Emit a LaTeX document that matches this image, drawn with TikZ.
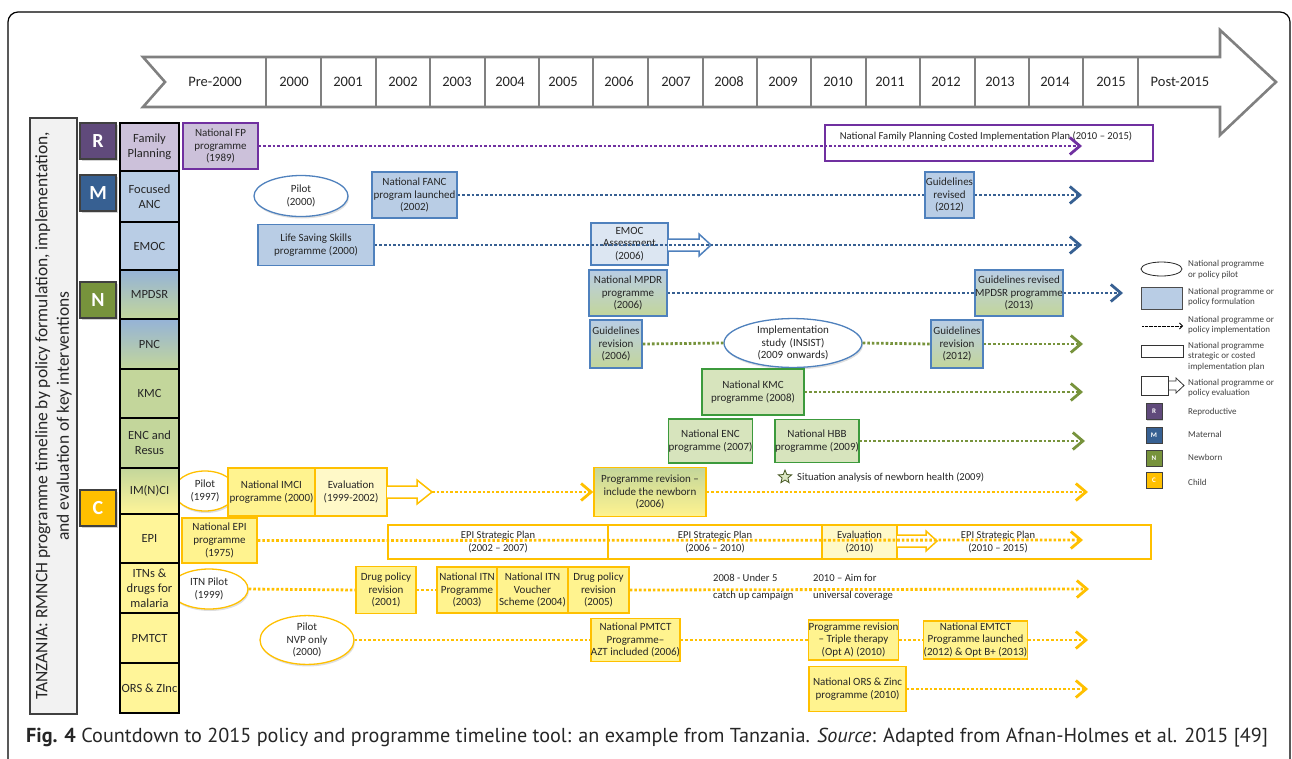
\documentclass[tikz,border=0pt]{standalone}
\usepackage{fontspec}
\setmainfont{Carlito}
\newfontfamily\capfont{PT Sans}
\usetikzlibrary{shapes.geometric,arrows.meta,shadows}

\definecolor{fpline}{HTML}{7030A0}
\definecolor{fpfill}{HTML}{CCC1DA}
\definecolor{rdark}{HTML}{604A7B}
\definecolor{mblue}{HTML}{376092}
\definecolor{midblue}{HTML}{95B3D7}
\definecolor{ltblue}{HTML}{B9CDE5}
\definecolor{boxblue}{HTML}{4F81BD}
\definecolor{evalblue}{HTML}{DCE6F2}
\definecolor{ngreen}{HTML}{77933C}
\definecolor{ltgreen}{HTML}{C3D69B}
\definecolor{boxgreen}{HTML}{D7E4BD}
\definecolor{greenline}{HTML}{3C9A3C}
\definecolor{cgold}{HTML}{FFC000}
\definecolor{colyellow}{HTML}{FFF599}
\definecolor{boxyellow}{HTML}{FFF38F}
\definecolor{evalyellow}{HTML}{FFF9C8}
\definecolor{bargray}{HTML}{808080}
\definecolor{txtgray}{HTML}{262626}
\definecolor{leggray}{HTML}{404040}

\newcommand{\boxfont}{\fontsize{11}{12.7}\selectfont}
\newcommand{\planfont}{\fontsize{10.6}{12.2}\selectfont}
\newcommand{\catfont}{\fontsize{12.5}{15}\selectfont}
\newcommand{\yrfont}{\fontsize{14.5}{16}\selectfont}
\newcommand{\letfont}{\fontsize{20}{22}\selectfont\bfseries}
\newcommand{\legfont}{\fontsize{9}{10.5}\selectfont}
\newcommand{\notefont}{\fontsize{10.6}{17}\selectfont}

\tikzstyle{timearrow}=[draw=bargray,line width=2.6pt,fill=white,line join=miter]
\tikzstyle{yearlab}=[font=\yrfont,text=txtgray]
\tikzstyle{titlebox}=[draw=leggray,line width=2pt,fill=black!5,align=center,text=txtgray,font=\fontsize{17.5}{21.5}\selectfont]
\tikzstyle{letterbox}=[draw=black!75,line width=1.2pt,minimum size=36pt,inner sep=0pt,text=white,font=\letfont,drop shadow={opacity=0.35,shadow xshift=1.5pt,shadow yshift=-1.5pt}]
\tikzstyle{catcell}=[draw=black,line width=1.8pt,minimum width=59pt,inner sep=0pt,align=center,font=\catfont,text=txtgray]
\tikzstyle{progbox}=[rectangle,line width=1.5pt,inner sep=0pt,align=center,font=\boxfont,text=txtgray]
\tikzstyle{rbox}=[progbox,draw=fpline,fill=fpfill]
\tikzstyle{mbox}=[progbox,draw=boxblue,fill=ltblue]
\tikzstyle{mnbox}=[progbox,draw=boxblue,top color=ltblue,bottom color=ltgreen]
\tikzstyle{nbox}=[progbox,draw=greenline,fill=boxgreen]
\tikzstyle{cbox}=[progbox,draw=cgold,fill=boxyellow]
\tikzstyle{cnbox}=[progbox,draw=cgold,top color=ltgreen,bottom color=boxyellow]
\tikzstyle{planbox}=[progbox,fill=white,font=\planfont]
\tikzstyle{pilotell}=[ellipse,line width=1.3pt,fill=white,inner sep=0pt,align=center,font=\boxfont,text=txtgray,drop shadow={opacity=0.25,shadow xshift=1pt,shadow yshift=-2pt}]
\tikzstyle{evalarrow}=[line width=1.5pt,fill=white,line join=miter]
\tikzstyle{dots}=[line width=2.8pt,dash pattern=on 2.6pt off 2pt]
\tikzstyle{impl}=[dots,-{Straight Barb[length=10pt,width=17pt,line width=2.8pt]}]
\tikzstyle{legtext}=[anchor=west,align=left,font=\legfont,text=leggray,inner sep=0pt]
\tikzstyle{legletter}=[draw=black!75,line width=1pt,minimum size=16pt,inner sep=0pt,text=white,font=\fontsize{7}{8}\selectfont\bfseries,drop shadow={opacity=0.35,shadow xshift=1pt,shadow yshift=-1pt}]

\begin{document}
\begin{tikzpicture}[x=1pt,y=-1pt]
    \useasboundingbox (0,0) rectangle (1292,758);
    \draw[line width=1.2pt,rounded corners=10pt] (8,800) -- (8,12) -- (1290,12) -- (1290,800);

    % time line
    \draw[timearrow] (143,57) -- (1220,57) -- (1220,30) -- (1276,82) -- (1220,135) -- (1220,107) -- (143,107) -- (165,82) -- cycle;
    \foreach \dx in {266,321,376,430,485,539,593,648,703,757,811,866,920,975,1029,1083,1138}
    \draw[bargray,line width=2.2pt] (\dx,57) -- (\dx,107);
    \node[yearlab] (ypre) at (215,82) {Pre-2000};
    \foreach \yx/\yr in {294/2000,348/2001,403/2002,457/2003,510/2004,563/2005,619/2006,676/2007,729/2008,783/2009,838/2010,890/2011,946/2012,1000/2013,1055/2014,1111/2015}
    \node[yearlab] (y\yr) at (\yx,82) {\yr};
    \node[yearlab] (ypost) at (1180,82) {Post-2015};

    \node[titlebox,rotate=90,minimum width=596pt,minimum height=47pt] (title) at (53.5,416) {TANZANIA: RMNCH programme timeline by policy formulation, implementation,\\and evaluation of key interventions};

    % plans and evaluations
    \node[planbox,draw=fpline,minimum width=328pt,minimum height=36pt] (fpplan) at (989,143) {};
    \node[font=\planfont,text=txtgray,inner sep=0pt] (fpplantxt) at (986,137) {National Family Planning Costed Implementation Plan (2010 -- 2015)};
    \node[progbox,draw=boxblue,fill=evalblue,minimum width=77pt,minimum height=42pt] (emoceval) at (629.5,244) {EMOC\\Assessment\\(2006)};
    \draw[evalarrow,draw=boxblue] (668,239) -- (699,239) -- (699,234) -- (711,245) -- (699,256) -- (699,251) -- (668,251);
    \node[planbox,draw=cgold,minimum width=220pt,minimum height=34pt] (epiplan1) at (498,542) {EPI Strategic Plan\\(2002 -- 2007)};
    \node[planbox,draw=cgold,minimum width=214pt,minimum height=34pt] (epiplan2) at (715,542) {EPI Strategic Plan\\(2006 -- 2010)};
    \node[planbox,draw=cgold,minimum width=329pt,minimum height=34pt] (epiplan3) at (986.5,542) {};
    \node[font=\planfont,text=txtgray,align=center,inner sep=0pt] (epiplan3txt) at (998,542) {EPI Strategic Plan\\(2010 -- 2015)};
    \node[progbox,draw=cgold,fill=evalyellow,minimum width=75pt,minimum height=34pt,font=\planfont] (epieval) at (859.5,542) {Evaluation\\(2010)};
    \draw[evalarrow,draw=cgold] (897,535) -- (926,535) -- (926,531) -- (937,541) -- (926,551) -- (926,547) -- (897,547);
    \node[progbox,draw=cgold,fill=evalyellow,minimum width=72pt,minimum height=48pt] (imcieval) at (351,492) {Evaluation\\(1999-2002)};
    \draw[evalarrow,draw=cgold] (387,486) -- (417,486) -- (417,480) -- (432,492) -- (417,504) -- (417,498) -- (387,498);
    \coordinate (imcitip) at (432,492);

    % ends of the implementation lines
    \coordinate (fpend) at (1082,146);
    \coordinate (ancend) at (1082,195);
    \coordinate (emocend) at (1082,245);
    \coordinate (mpdsrend) at (1123,293);
    \coordinate (pncend) at (1083,344);
    \coordinate (kmcend) at (1083,392);
    \coordinate (encend) at (1085,441);
    \coordinate (imciend) at (1088,492);
    \coordinate (epiend) at (1083,540);
    \coordinate (itnend) at (1089,589);
    \coordinate (pmtctend) at (1088,640);
    \coordinate (orsend) at (1088,689);

    % pilots
    \node[pilotell,draw=boxblue,minimum width=94pt,minimum height=41pt] (ancpilot) at (301,196) {Pilot\\(2000)};
    \node[pilotell,draw=boxblue,minimum width=138pt,minimum height=40pt,text width=86pt] (pncstudy) at (793,343) {Implementation\\study (INSIST)\\(2009 onwards)};
    \node[pilotell,draw=cgold,minimum width=62pt,minimum height=40pt] (imcipilot) at (205,491) {Pilot\\(1997)};
    \node[pilotell,draw=cgold,minimum width=78pt,minimum height=40pt] (itnpilot) at (209,589) {ITN Pilot\\(1999)};
    \node[pilotell,draw=cgold,minimum width=94pt,minimum height=42pt] (pmtctpilot) at (307,640) {Pilot\\NVP only\\(2000)};

    % programmes
    \node[rbox,minimum width=75pt,minimum height=46pt] (fpnat) at (220.5,146) {National FP\\programme\\(1989)};
    \node[mbox,minimum width=85pt,minimum height=46pt] (ancnat) at (414.5,195) {National FANC\\program launched\\(2002)};
    \node[mbox,minimum width=49pt,minimum height=46pt] (ancrev) at (949.5,195) {Guidelines\\revised\\(2012)};
    \node[mbox,minimum width=116pt,minimum height=41pt] (emocnat) at (316,245) {Life Saving Skills\\programme (2000)};
    \node[mnbox,minimum width=78pt,minimum height=46pt] (mpdrnat) at (628,293) {National MPDR\\programme\\(2006)};
    \node[mnbox,minimum width=88pt,minimum height=46pt] (mpdsrrev) at (1019,293) {Guidelines revised\\MPDSR programme\\(2013)};
    \node[mnbox,minimum width=52pt,minimum height=48pt] (pncrev1) at (616,344) {Guidelines\\revision\\(2006)};
    \node[mnbox,minimum width=52pt,minimum height=48pt] (pncrev2) at (957,344) {Guidelines\\revision\\(2012)};
    \node[nbox,minimum width=102pt,minimum height=46pt] (kmcnat) at (753,392) {National KMC\\programme (2008)};
    \node[nbox,minimum width=83pt,minimum height=44pt] (encnat) at (710.5,441) {National ENC\\programme (2007)};
    \node[nbox,minimum width=82pt,minimum height=43pt] (hbbnat) at (817,441) {National HBB\\programme (2009)};
    \node[cbox,minimum width=87pt,minimum height=48pt] (imcinat) at (271.5,492) {National IMCI\\programme (2000)};
    \node[cnbox,minimum width=112pt,minimum height=49pt] (imcirev) at (650,492) {Programme revision --\\include the newborn\\(2006)};
    \node[cbox,minimum width=75pt,minimum height=45pt] (epinat) at (219.5,540.5) {National EPI\\programme\\(1975)};
    \node[cbox,minimum width=60pt,minimum height=47pt] (itndrug1) at (386,590) {Drug policy\\revision\\(2001)};
    \node[cbox,minimum width=60pt,minimum height=46pt] (itnnat) at (467,590) {National ITN\\Programme\\(2003)};
    \node[cbox,minimum width=71pt,minimum height=46pt] (itnvouch) at (532.5,590) {National ITN\\Voucher\\Scheme (2004)};
    \node[cbox,minimum width=61pt,minimum height=46pt] (itndrug2) at (598.5,590) {Drug policy\\revision\\(2005)};
    \node[cbox,minimum width=89pt,minimum height=43pt] (pmtctnat) at (635.5,640) {National PMTCT\\Programme--\\AZT included (2006)};
    \node[cbox,minimum width=89pt,minimum height=40pt] (pmtctrev) at (853.5,640) {Programme revision\\-- Triple therapy\\(Opt A) (2010)};
    \node[cbox,minimum width=103pt,minimum height=38pt] (emtct) at (975.5,640) {National EMTCT\\Programme launched\\(2012) \& Opt B+ (2013)};
    \node[cbox,minimum width=97pt,minimum height=45pt] (orsnat) at (857.5,689) {National ORS \& Zinc\\programme (2010)};

    % implementation
    \draw[impl,fpline] (fpnat.east) -- (fpend);
    \draw[dots,mblue] (ancnat.east) -- (ancrev.west);
    \draw[impl,mblue] (ancrev.east) -- (ancend);
    \draw[impl,mblue] (emocnat.east) -- (emocend);
    \draw[dots,mblue] (mpdrnat.east) -- (mpdsrrev.west);
    \draw[impl,mblue] (mpdsrrev.east) -- (mpdsrend);
    \draw[dots,ngreen] (pncrev1.east) -- (pncstudy.west);
    \draw[dots,ngreen] (pncstudy.east) -- (pncrev2.west);
    \draw[impl,ngreen] (pncrev2.east) -- (pncend);
    \draw[impl,ngreen] (kmcnat.east) -- (kmcend);
    \draw[impl,ngreen] (hbbnat.east) -- (encend);
    \draw[impl,cgold] (imcitip) -- (imcirev.west);
    \draw[impl,cgold] (imcirev.east) -- (imciend);
    \draw[impl,cgold] (epinat.east) -- (epiend);
    \draw[dots,cgold] (itnpilot.east) -- (itndrug1.west);
    \draw[dots,cgold] (itndrug1.east) -- (itnnat.west);
    \draw[impl,cgold] (itndrug2.east) -- (itnend);
    \draw[dots,cgold] (pmtctpilot.east) -- (pmtctnat.west);
    \draw[dots,cgold] (pmtctnat.east) -- (pmtctrev.west);
    \draw[dots,cgold] (pmtctrev.east) -- (emtct.west);
    \draw[impl,cgold] (emtct.east) -- (pmtctend);
    \draw[impl,cgold] (orsnat.east) -- (orsend);

    \node[star,star points=5,star point ratio=2.3,draw=ngreen!60!black,fill=ltgreen!60,line width=0.8pt,minimum size=14pt,inner sep=0pt] (sitstar) at (785,477) {};
    \node[anchor=west,font=\notefont,text=txtgray,inner sep=0pt] (sittext) at (797,477) {Situation analysis of newborn health (2009)};
    \node[anchor=west,align=left,font=\notefont,text=txtgray,inner sep=0pt] (itncatch) at (713,587) {2008 - Under 5\\catch up campaign};
    \node[anchor=west,align=left,font=\notefont,text=txtgray,inner sep=0pt] (itnaim) at (813,587) {2010 -- Aim for\\universal coverage};

    % interventions
    \node[catcell,fill=fpfill,minimum height=48pt] (fp) at (149.5,147) {Family\\Planning};
    \node[catcell,fill=ltblue,minimum height=51pt] (anc) at (149.5,196.5) {Focused\\ANC};
    \node[catcell,fill=ltblue,minimum height=48pt] (emoc) at (149.5,246) {EMOC};
    \node[catcell,top color=midblue,bottom color=ltgreen,minimum height=49pt] (mpdsr) at (149.5,294.5) {MPDSR};
    \node[catcell,top color=midblue,bottom color=ltgreen,minimum height=50pt] (pnc) at (149.5,344) {PNC};
    \node[catcell,fill=ltgreen,minimum height=49pt] (kmc) at (149.5,393.5) {KMC};
    \node[catcell,fill=ltgreen,minimum height=50pt] (enc) at (149.5,443) {ENC and\\Resus};
    \node[catcell,top color=ltgreen,bottom color=colyellow,minimum height=46pt] (imnci) at (149.5,491) {IM(N)CI};
    \node[catcell,fill=colyellow,minimum height=49pt] (epi) at (149.5,538.5) {EPI};
    \node[catcell,fill=colyellow,minimum height=50pt] (itn) at (149.5,588) {ITNs \&\\drugs for\\malaria};
    \node[catcell,fill=colyellow,minimum height=50pt] (pmtct) at (149.5,638) {PMTCT};
    \node[catcell,fill=colyellow,minimum height=50pt] (ors) at (149.5,688) {ORS \& ZInc};

    \node[letterbox,fill=rdark] (rbox) at (98,141) {R};
    \node[letterbox,fill=mblue] (mbox) at (98,193) {M};
    \node[letterbox,fill=ngreen] (nbox) at (98,300) {N};
    \node[letterbox,fill=cgold] (cbox) at (98,508) {C};

    % legend
    \node[ellipse,draw=black!85,line width=0.8pt,minimum width=41pt,minimum height=14pt,inner sep=0pt] (legpilot) at (1161.5,269) {};
    \node[legtext] (legpilottxt) at (1188,269.5) {National programme\\or policy pilot};
    \node[draw=black!70,fill=ltblue,line width=0.8pt,minimum width=41pt,minimum height=22pt,inner sep=0pt] (legform) at (1161.5,298) {};
    \node[legtext] (legformtxt) at (1188,297) {National programme or\\policy formulation};
    \coordinate (legimpla) at (1142,326);
    \coordinate (legimplb) at (1183,326);
    \draw[line width=0.7pt,dash pattern=on 0.7pt off 0.6pt,-{Straight Barb[length=3pt,width=6pt,line width=0.8pt]}] (legimpla) -- (legimplb);
    \node[legtext] (legimpltxt) at (1188,325) {National programme or\\policy implementation};
    \node[draw=black!80,line width=0.8pt,minimum width=42pt,minimum height=12pt,inner sep=0pt] (legplan) at (1162,351) {};
    \node[legtext] (legplantxt) at (1188,356.5) {National programme\\strategic or costed\\implementation plan};
    \draw[black!80,line width=0.8pt] (1168,376) -- (1141,376) -- (1141,395) -- (1168,395) -- cycle;
    \draw[black!80,line width=0.8pt,line join=miter] (1168,381) -- (1176,381) -- (1176,378) -- (1184,385.5) -- (1176,393) -- (1176,390) -- (1168,390);
    \node[legtext] (legevaltxt) at (1188,388) {National programme or\\policy evaluation};
    \node[legletter,fill=rdark] (legr) at (1154,411.5) {R};
    \node[legletter,fill=mblue] (legm) at (1154,435) {M};
    \node[legletter,fill=ngreen] (legn) at (1154,458) {N};
    \node[legletter,fill=cgold] (legc) at (1154,480) {C};
    \node[legtext] (legrtxt) at (1188,412) {Reproductive};
    \node[legtext] (legmtxt) at (1188,434) {Maternal};
    \node[legtext] (legntxt) at (1188,457) {Newborn};
    \node[legtext] (legctxt) at (1188,482) {Child};

    \node[anchor=west,inner sep=0pt,text=txtgray,font=\capfont\fontsize{20.2}{24}\selectfont] (caption) at (26,738) {\textbf{Fig. 4} Countdown to 2015 policy and programme timeline tool: an example from Tanzania. \textit{Source}: Adapted from Afnan-Holmes et al. 2015 [49]};
\end{tikzpicture}
\end{document}
